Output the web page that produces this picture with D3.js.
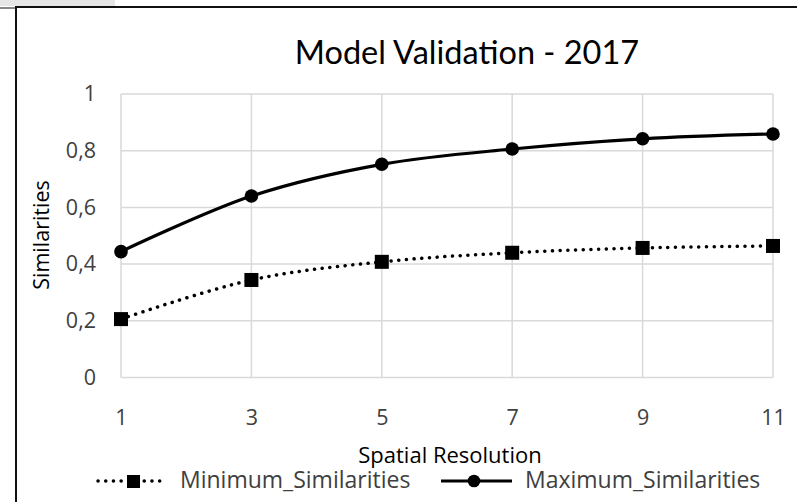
<!DOCTYPE html>
<html><head><meta charset="utf-8">
<script src="https://cdn.jsdelivr.net/npm/d3@7"></script>
<style>
body{margin:0;background:#fff;}
svg{display:block;font-family:"Open Sans",sans-serif;}
</style></head>
<body><svg id="c" width="797" height="502"></svg>
<script>
const resolutions = [1, 3, 5, 7, 9, 11];
const minSimilarities = [0.206, 0.344, 0.408, 0.440, 0.457, 0.464];
const maxSimilarities = [0.444, 0.640, 0.752, 0.806, 0.842, 0.859];
const yTicks = [0, 0.2, 0.4, 0.6, 0.8, 1];
const seriesNames = ["Minimum_Similarities", "Maximum_Similarities"];

const svg = d3.select("#c");
// frame decoration
svg.append("rect").attr("x",0).attr("y",0).attr("width",115).attr("height",6).attr("fill","#e6e6e6");
svg.append("line").attr("x1",0).attr("x2",16).attr("y1",8).attr("y2",8).attr("stroke","#888").attr("stroke-width",2);
svg.append("rect").attr("x",16).attr("y",7).attr("width",790).attr("height",510)
  .attr("fill","none").attr("stroke","#111").attr("stroke-width",2);

const x = d3.scaleLinear().domain([1,11]).range([121,773]);
const y = d3.scaleLinear().domain([0,1]).range([377.5,94]);
const fmt = d => String(d).replace(".", ",");

// gridlines
const g = svg.append("g");
g.selectAll(".hg").data(yTicks).join("line")
  .attr("x1",x(1)).attr("x2",x(11)).attr("y1",d=>y(d)).attr("y2",d=>y(d))
  .attr("stroke","#d9d9d9").attr("stroke-width",1.5);
g.selectAll(".vg").data(resolutions).join("line")
  .attr("x1",d=>x(d)).attr("x2",d=>x(d)).attr("y1",y(0)).attr("y2",y(1))
  .attr("stroke","#d9d9d9").attr("stroke-width",1.5);

// axes
const yAxis = svg.append("g").attr("transform",`translate(${x(1)-25},0)`)
  .call(d3.axisLeft(y).tickValues(yTicks).tickFormat(fmt).tickSize(0).tickPadding(0));
yAxis.select(".domain").remove();
yAxis.selectAll("text").attr("font-size",21.5).attr("fill","#404040").attr("font-family","'Open Sans',sans-serif").attr("font-weight",400);

const xAxis = svg.append("g").attr("transform",`translate(0,${y(0)+40})`)
  .call(d3.axisBottom(x).tickValues(resolutions).tickSize(0).tickPadding(0));
xAxis.select(".domain").remove();
xAxis.selectAll("text").attr("font-size",21.5).attr("fill","#404040").attr("font-family","'Open Sans',sans-serif").attr("font-weight",400).attr("dy","0.35em");

// titles
svg.append("text").attr("x",467).attr("y",64).attr("text-anchor","middle")
  .attr("font-family","Lato,sans-serif").attr("font-size",32.5).attr("fill","#000").text("Model Validation - 2017");
svg.append("text").attr("transform","translate(49,235) rotate(-90)").attr("text-anchor","middle")
  .attr("font-size",21.5).attr("fill","#000").text("Similarities");
svg.append("text").attr("x",450).attr("y",463).attr("text-anchor","middle")
  .attr("font-size",22).attr("fill","#000").text("Spatial Resolution");

// lines
const minData = resolutions.map((r,i)=>[r,minSimilarities[i]]);
const maxData = resolutions.map((r,i)=>[r,maxSimilarities[i]]);
const line = d3.line().x(d=>x(d[0])).y(d=>y(d[1])).curve(d3.curveCatmullRom.alpha(0.5));

svg.append("path").attr("d",line(minData)).attr("fill","none").attr("stroke","#000")
  .attr("stroke-width",3.5).attr("stroke-dasharray","0.1 7.6").attr("stroke-linecap","round");
svg.append("path").attr("d",line(maxData)).attr("fill","none").attr("stroke","#000")
  .attr("stroke-width",3.2);

svg.selectAll(".sq").data(minData).join("rect")
  .attr("x",d=>x(d[0])-7).attr("y",d=>y(d[1])-7).attr("width",14).attr("height",14).attr("fill","#000");
svg.selectAll(".ci").data(maxData).join("circle")
  .attr("cx",d=>x(d[0])).attr("cy",d=>y(d[1])).attr("r",6.8).attr("fill","#000");

// legend
const lg = svg.append("g");
lg.append("line").attr("x1",98).attr("x2",166).attr("y1",481).attr("y2",481)
  .attr("stroke","#000").attr("stroke-width",3.5).attr("stroke-dasharray","0.1 7.6").attr("stroke-linecap","round");
lg.append("rect").attr("x",127).attr("y",475).attr("width",13).attr("height",13).attr("fill","#000");
lg.append("text").attr("x",180).attr("y",488).attr("font-size",23).attr("fill","#404040").attr("font-weight",400).text(seriesNames[0]);
lg.append("line").attr("x1",441).attr("x2",512).attr("y1",481).attr("y2",481).attr("stroke","#000").attr("stroke-width",3.2);
lg.append("circle").attr("cx",474).attr("cy",481).attr("r",6.3).attr("fill","#000");
lg.append("text").attr("x",525).attr("y",488).attr("font-size",23).attr("fill","#404040").attr("font-weight",400).text(seriesNames[1]);
</script></body></html>
